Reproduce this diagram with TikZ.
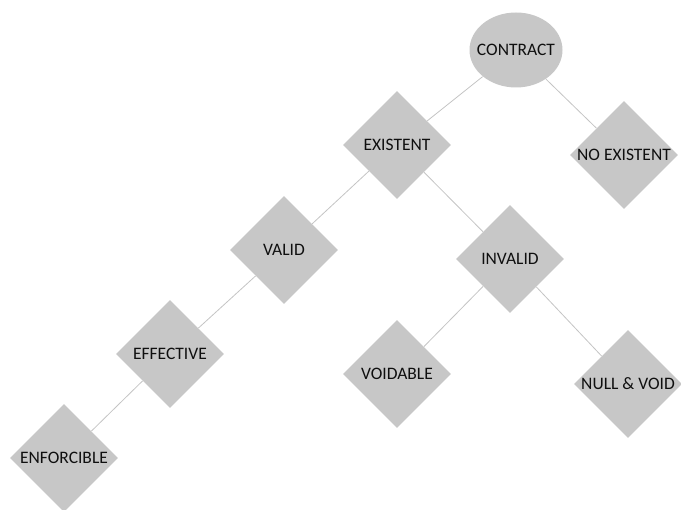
\documentclass[tikz,border=0pt]{standalone}
\usepackage{fontspec}
\setmainfont{Carlito}
\usetikzlibrary{positioning, shapes.geometric}

\definecolor{boxgray}{RGB}{199,199,199}
\definecolor{linegray}{RGB}{196,196,196}
\definecolor{textgray}{RGB}{15,15,15}

\begin{document}
\begin{tikzpicture}[x=1pt, y=1pt, on grid, thick, main/.style = {diamond, fill=boxgray, draw=none, minimum size=108pt, inner sep=0pt, text=textgray, font=\fontsize{17.5}{20}\selectfont}, top/.style = {ellipse, fill=boxgray, draw=none, minimum width=93pt, minimum height=75pt, inner sep=0pt, text=textgray, font=\fontsize{17.5}{20}\selectfont}, every edge/.style = {draw=linegray, line width=0.8pt}]
			\useasboundingbox (0,0) rectangle (681,-510);
			\node[top] (contract) at (516,-50) {\makebox[0pt]{CONTRACT}};
			\node[main] (existent) [below left=95pt and 119pt of contract] {\makebox[0pt]{EXISTENT}};
			\node[main] (noexistent) [below right=105pt and 108pt of contract] {\makebox[0pt]{NO EXISTENT}};
			\node[main] (valid) [below left=105pt and 113pt of existent] {\makebox[0pt]{VALID}};
			\node[main] (invalid) [below right=114pt and 113pt of existent] {\makebox[0pt]{INVALID}};
			\node[main] (effective) [below left=104pt and 114pt of valid] {\makebox[0pt]{EFFECTIVE}};
			\node[main] (enforcible) [below left=104pt and 106pt of effective] {\makebox[0pt]{ENFORCIBLE}};
			\node[main] (voidable) [below left=115pt and 113pt of invalid] {\makebox[0pt]{VOIDABLE}};
			\node[main] (nullvoid) [below right=125pt and 118pt of invalid] {\makebox[0pt]{NULL \& VOID}};
			\path
				(contract) edge (existent)
				(contract) edge (noexistent)
				(existent) edge (valid)
				(existent) edge (invalid)
				(valid) edge (effective)
				(effective) edge (enforcible)
				(invalid) edge (voidable)
				(invalid) edge (nullvoid);
		\end{tikzpicture}
\end{document}
